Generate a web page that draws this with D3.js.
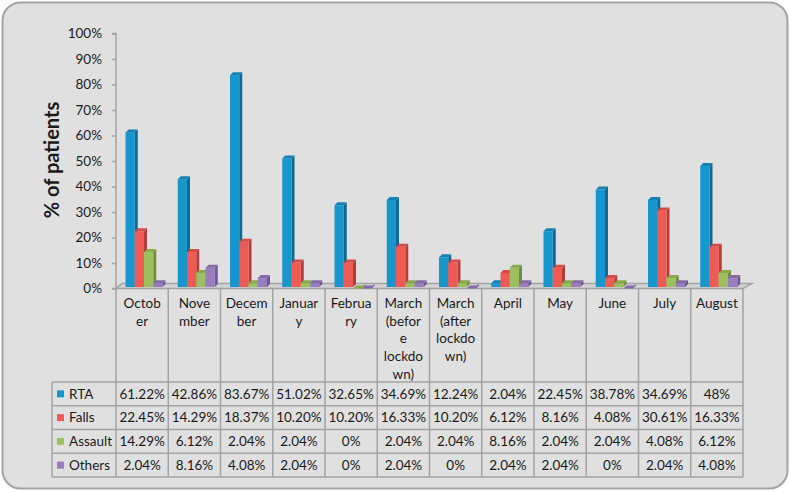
<!DOCTYPE html>
<html>
<head>
<meta charset="utf-8">
<script src="https://cdn.jsdelivr.net/npm/d3@7"></script>
<style>
  body { margin: 0; background: #fff; }
  text { font-family: Lato, "Open Sans", sans-serif; fill: #1a1a1a; }
</style>
</head>
<body>
<div class="vizHolder"></div>
<script>
var width = 790,
    height = 492;

// categories (full names) and how they wrap in the table header
var categories = ["October", "November", "December", "January", "February",
                  "March (before lockdown)", "March (after lockdown)",
                  "April", "May", "June", "July", "August"];
var headerLines = [["Octob", "er"], ["Nove", "mber"], ["Decem", "ber"], ["Januar", "y"],
                   ["Februa", "ry"], ["March", "(befor", "e", "lockdo", "wn)"],
                   ["March", "(after", "lockdo", "wn)"], ["April"], ["May"], ["June"],
                   ["July"], ["August"]];

var seriesNames = ["RTA", "Falls", "Assault", "Others"];
var rta     = [61.22, 42.86, 83.67, 51.02, 32.65, 34.69, 12.24, 2.04, 22.45, 38.78, 34.69, 48];
var falls   = [22.45, 14.29, 18.37, 10.20, 10.20, 16.33, 10.20, 6.12, 8.16, 4.08, 30.61, 16.33];
var assault = [14.29, 6.12, 2.04, 2.04, 0, 2.04, 2.04, 8.16, 2.04, 2.04, 4.08, 6.12];
var others  = [2.04, 8.16, 4.08, 2.04, 0, 2.04, 0, 2.04, 2.04, 0, 2.04, 4.08];

var yTicks = [0, 10, 20, 30, 40, 50, 60, 70, 80, 90, 100];

var seriesValues = [rta, falls, assault, others];
var frontColors = ["#1795cd", "#ee5b56", "#9cc05e", "#9a7dbd"];
var sideColors  = ["#0d6894", "#b33c38", "#6f8d3b", "#6d5691"];
var topColors   = ["#1482b4", "#d44a45", "#88aa4c", "#8569a8"];

var svg = d3.select('.vizHolder')
            .append('svg')
            .attr('width', width)
            .attr('height', height);

// chart frame
svg.append('rect')
   .attr('x', 2.5).attr('y', 2.5)
   .attr('width', 785).attr('height', 486)
   .attr('rx', 18)
   .attr('fill', '#e0e0e0')
   .attr('stroke', '#a3a3a3')
   .attr('stroke-width', 2);

var plotLeft = 116, plotRight = 743;

var xScale = d3.scaleBand()
               .domain(categories)
               .range([plotLeft, plotRight]);

var x1 = d3.scaleBand()
           .domain(seriesNames)
           .range([9.5, 46.5]);

var yScale = d3.scaleLinear()
               .domain([0, 100])
               .range([288.5, 33.5]);

var dx = 3, dy = 3;

// floor
var y0 = yScale(0);
svg.append('polygon')
   .attr('points', [[plotLeft, y0], [plotRight, y0], [plotRight + 9, y0 - 5], [plotLeft + 6, y0 - 5]].join(' '))
   .attr('fill', '#d2d2d2')
   .attr('stroke', '#a3a3a3')
   .attr('stroke-width', 1.5);

// y axis
var yAxis = d3.axisLeft()
              .scale(yScale)
              .tickValues(yTicks)
              .tickSize(4)
              .tickPadding(10)
              .tickFormat(function(d){ return d + '%'; });

var yAxisGroup = svg.append('g')
                    .attr('id', 'y-axis')
                    .attr('transform', 'translate(' + plotLeft + ',0)')
                    .call(yAxis);
yAxisGroup.selectAll('path, line').attr('stroke', '#a3a3a3').attr('stroke-width', 1.5);
yAxisGroup.select('.domain').attr('d', 'M-4,' + yScale(100) + 'H0V' + y0 + 'H-4');
yAxisGroup.selectAll('text')
          .style('font-family', 'Lato, sans-serif')
          .style('font-size', '13.5px')
          .attr('fill', '#1a1a1a');

// Y-Axis title
svg.append('text')
   .attr('transform', 'translate(59,160) rotate(-90)')
   .attr('text-anchor', 'middle')
   .style('font-size', '20px')
   .style('font-weight', 'bold')
   .text('% of patients');

// 3D bars
categories.forEach(function(cat, i){
    seriesNames.forEach(function(s, j){
        var v = seriesValues[j][i];
        var x = xScale(cat) + x1(s),
            w = x1.bandwidth(),
            yt = yScale(v),
            yb = y0 - 1.5;
        var g = svg.append('g');
        g.append('polygon')
         .attr('points', [[x + w, yt], [x + w + dx, yt - dy], [x + w + dx, yb - dy], [x + w, yb]].join(' '))
         .attr('fill', sideColors[j]);
        g.append('rect')
         .attr('x', x).attr('y', yt)
         .attr('width', w).attr('height', Math.max(0, yb - yt))
         .attr('fill', frontColors[j]);
        g.append('polygon')
         .attr('points', [[x, yt], [x + dx, yt - dy], [x + w + dx, yt - dy], [x + w, yt]].join(' '))
         .attr('fill', topColors[j]);
    });
});

// data table
var tableLeft = 52, headerBottom = 382, rowH = 23.75;
var lineColor = '#a3a3a3';

function fmt(v){
    return (Number.isInteger(v) ? v : v.toFixed(2)) + '%';
}

var table = svg.append('g');

// vertical lines
var vx = categories.map(function(c){ return xScale(c); }).concat([plotRight]);
vx.forEach(function(x){
    table.append('line')
         .attr('x1', x).attr('x2', x)
         .attr('y1', y0).attr('y2', headerBottom + rowH * 4)
         .attr('stroke', lineColor).attr('stroke-width', 1.5);
});
table.append('line')
     .attr('x1', tableLeft).attr('x2', tableLeft)
     .attr('y1', headerBottom).attr('y2', headerBottom + rowH * 4)
     .attr('stroke', lineColor).attr('stroke-width', 1.5);

// horizontal lines
d3.range(5).forEach(function(r){
    table.append('line')
         .attr('x1', tableLeft).attr('x2', plotRight)
         .attr('y1', headerBottom + r * rowH).attr('y2', headerBottom + r * rowH)
         .attr('stroke', lineColor).attr('stroke-width', 1.5);
});

// header labels
categories.forEach(function(cat, i){
    headerLines[i].forEach(function(line, k){
        table.append('text')
             .attr('x', xScale(cat) + xScale.bandwidth() / 2)
             .attr('y', 303 + k * 17.8)
             .attr('dy', '0.35em')
             .attr('text-anchor', 'middle')
             .style('font-size', '13.5px')
             .text(line);
    });
});

// legend cells and values
seriesNames.forEach(function(s, j){
    var cy = headerBottom + j * rowH + rowH / 2;
    table.append('rect')
         .attr('x', 57).attr('y', cy - 3.5)
         .attr('width', 7).attr('height', 7)
         .attr('fill', frontColors[j]);
    table.append('text')
         .attr('x', 69).attr('y', cy)
         .attr('dy', '0.35em')
         .style('font-size', '13.5px')
         .text(s);
    categories.forEach(function(cat, i){
        table.append('text')
             .attr('x', xScale(cat) + xScale.bandwidth() / 2)
             .attr('y', cy)
             .attr('dy', '0.35em')
             .attr('text-anchor', 'middle')
             .style('font-size', '13.5px')
             .text(fmt(seriesValues[j][i]));
    });
});
</script>
</body>
</html>
